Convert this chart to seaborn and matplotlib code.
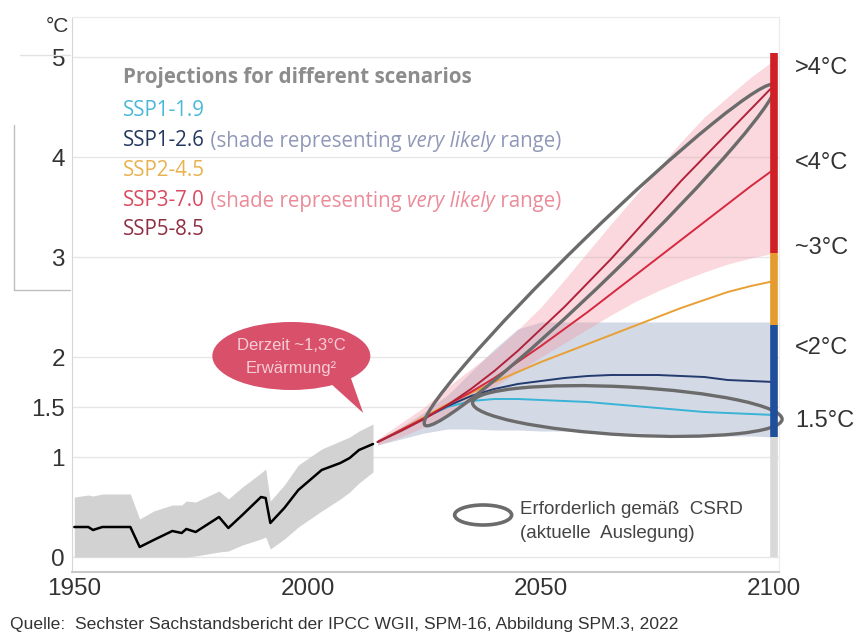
import numpy as np
import pandas as pd
import matplotlib.pyplot as plt
import seaborn as sns
from matplotlib.patches import Ellipse, Polygon
from matplotlib.transforms import Affine2D
from matplotlib.lines import Line2D

# observed warming (black line + grey band)
hist_years = [1950, 1953, 1954, 1956, 1962, 1964, 1967, 1971, 1973, 1974, 1976, 1981,
              1983, 1986, 1990, 1991, 1992, 1995, 1998, 2003, 2007, 2009, 2011, 2014]
hist_mean = [0.30, 0.30, 0.27, 0.30, 0.30, 0.10, 0.17, 0.26, 0.24, 0.28, 0.25, 0.40,
             0.29, 0.42, 0.60, 0.59, 0.34, 0.49, 0.67, 0.87, 0.94, 0.99, 1.07, 1.13]
hist_upper = [0.60, 0.62, 0.61, 0.63, 0.63, 0.38, 0.46, 0.52, 0.52, 0.56, 0.55, 0.66,
              0.58, 0.70, 0.84, 0.88, 0.56, 0.72, 0.92, 1.08, 1.16, 1.20, 1.26, 1.33]
hist_lower = [0.00, 0.00, 0.00, 0.00, 0.00, 0.00, 0.00, 0.00, 0.00, 0.00, 0.01, 0.05,
              0.06, 0.12, 0.18, 0.20, 0.08, 0.18, 0.30, 0.46, 0.58, 0.65, 0.74, 0.85]

# projections
proj_years = [2015, 2020, 2025, 2030, 2035, 2040, 2045, 2050, 2055, 2060,
              2065, 2070, 2075, 2080, 2085, 2090, 2095, 2100]
ssp119 = [1.15, 1.27, 1.39, 1.50, 1.56, 1.58, 1.58, 1.57, 1.56, 1.55,
          1.53, 1.51, 1.49, 1.47, 1.45, 1.44, 1.43, 1.42]
ssp126 = [1.15, 1.27, 1.39, 1.51, 1.61, 1.68, 1.73, 1.76, 1.79, 1.81,
          1.82, 1.82, 1.82, 1.81, 1.80, 1.77, 1.76, 1.75]
ssp245 = [1.15, 1.27, 1.40, 1.53, 1.64, 1.75, 1.85, 1.95, 2.04, 2.13,
          2.22, 2.31, 2.40, 2.49, 2.57, 2.65, 2.71, 2.76]
ssp370 = [1.15, 1.27, 1.39, 1.52, 1.65, 1.79, 1.95, 2.11, 2.28, 2.45,
          2.63, 2.81, 2.99, 3.17, 3.35, 3.53, 3.71, 3.88]
ssp585 = [1.15, 1.26, 1.38, 1.52, 1.68, 1.86, 2.06, 2.28, 2.50, 2.74,
          2.98, 3.24, 3.50, 3.76, 4.00, 4.24, 4.48, 4.72]
ssp126_upper = [1.16, 1.30, 1.45, 1.62, 1.85, 2.08, 2.28, 2.35, 2.35, 2.35,
                2.35, 2.35, 2.35, 2.35, 2.35, 2.35, 2.35, 2.35]
ssp126_lower = [1.12, 1.18, 1.24, 1.28, 1.28, 1.27, 1.27, 1.26, 1.26, 1.25,
                1.25, 1.24, 1.23, 1.23, 1.22, 1.21, 1.21, 1.20]
ssp370_upper = [1.18, 1.34, 1.50, 1.70, 1.88, 2.06, 2.27, 2.50, 2.77, 3.05,
                3.33, 3.60, 3.88, 4.15, 4.40, 4.60, 4.80, 4.97]
ssp370_lower = [1.12, 1.20, 1.30, 1.42, 1.55, 1.70, 1.85, 2.00, 2.14, 2.28,
                2.42, 2.55, 2.66, 2.76, 2.85, 2.93, 2.99, 3.04]

scenarios = ['SSP1-1.9', 'SSP1-2.6', 'SSP2-4.5', 'SSP3-7.0', 'SSP5-8.5']
line_colors = ['#39B3D6', '#233B6E', '#E8A035', '#D6283F', '#B0223A']

# level bar at 2100
bar_bottoms = [0.0, 1.2, 2.32, 3.04]
bar_tops = [1.2, 2.32, 3.04, 5.04]
bar_colors = ['#D9D9D9', '#1F4E9A', '#E69B2E', '#D01F26']
level_labels = ['>4°C', '<4°C', '~3°C', '<2°C', '1.5°C']
level_pos = [4.89, 3.94, 3.09, 2.09, 1.36]

yticks = [0, 1, 1.5, 2, 3, 4, 5]
ytick_labels = ['0', '1', '1.5', '2', '3', '4', '5']
xticks = [1950, 2000, 2050, 2100]

sns.set_style('white')
plt.rcParams['font.family'] = ['Liberation Sans', 'DejaVu Sans']

W, H = 859, 637
fig = plt.figure(figsize=(W / 100, H / 100), dpi=100)
ax = fig.add_axes([72 / W, 1 - 572 / H, 707 / W, 555 / H])
XMIN, XMAX, YMIN, YMAX = 1949.5, 2101, -0.15, 5.4
ax.set_xlim(XMIN, XMAX)
ax.set_ylim(YMIN, YMAX)
px_x = 707 / (XMAX - XMIN)
px_y = 555 / (YMAX - YMIN)

for y in yticks:
    ax.axhline(y, color='#E6E6E6', lw=1, zorder=0)

# bands
ax.fill_between(hist_years, hist_lower, hist_upper, color='#D2D2D2', lw=0, zorder=1)
ax.fill_between(proj_years, ssp126_lower, ssp126_upper, color='#D3D9E5', lw=0, zorder=1)
ax.fill_between(proj_years, ssp370_lower, ssp370_upper, color='#F29AA8', alpha=0.38, lw=0, zorder=1)

hist = pd.DataFrame({'year': hist_years, 'temp': hist_mean})
sns.lineplot(data=hist, x='year', y='temp', color='black', lw=1.8, ax=ax, zorder=3)

proj = pd.DataFrame({
    'year': proj_years * 5,
    'temp': ssp119 + ssp126 + ssp245 + ssp370 + ssp585,
    'scenario': [s for s in scenarios for _ in proj_years],
})
sns.lineplot(data=proj, x='year', y='temp', hue='scenario', hue_order=scenarios,
             palette=dict(zip(scenarios, line_colors)), lw=1.4, legend=False, ax=ax, zorder=3)


def px_ellipse(cx, cy, w, h, ang, **kw):
    # ellipse sized in pixels, centred on a data point
    e = Ellipse((0, 0), w, h, clip_on=False, **kw)
    e.set_transform(Affine2D().rotate_deg(ang).scale(1 / px_x, 1 / px_y).translate(cx, cy) + ax.transData)
    ax.add_patch(e)
    return e


px_ellipse(2062.6, 3.02, 488, 44, 44.2, fill=False, ec='#6B6B6B', lw=2.4, zorder=4)
px_ellipse(2068.5, 1.46, 310, 48, -3.1, fill=False, ec='#6B6B6B', lw=2.4, zorder=4)
px_ellipse(2037.6, 0.42, 57, 20, 0, fill=False, ec='#6B6B6B', lw=2.6, zorder=4)
ax.text(2045.5, 0.47, 'Erforderlich gemäß  CSRD', fontsize=13.5, color='#444444', va='center')
ax.text(2045.5, 0.24, '(aktuelle  Auslegung)', fontsize=13.5, color='#444444', va='center')

# level bar
for b, t, c in zip(bar_bottoms, bar_tops, bar_colors):
    ax.plot([2100, 2100], [b, t], color=c, lw=5.5, solid_capstyle='butt', zorder=5, clip_on=False)
for lab, y in zip(level_labels, level_pos):
    ax.text(2104.4, y, lab, fontsize=17, color='#333333', va='center', ha='left', clip_on=False)

# speech bubble
px_ellipse(1996.5, 2.01, 158, 68, 0, fc='#D9506A', ec='none', zorder=6)
ax.add_patch(Polygon([(2004.8, 1.74), (2009.1, 1.81), (2011.9, 1.44)], closed=True,
                     fc='#D9506A', ec='none', zorder=6, clip_on=False))
ax.text(1996.5, 2.12, 'Derzeit ~1,3°C', fontsize=12, color='#F7CCD4', ha='center', va='center', zorder=7)
ax.text(1996.5, 1.89, 'Erwärmung²', fontsize=12, color='#F7CCD4', ha='center', va='center', zorder=7)

# axes styling
ax.set_yticks(yticks)
ax.set_yticklabels(ytick_labels)
ax.set_xticks(xticks)
ax.set_xticks(range(1960, 2100, 10), minor=True)
ax.tick_params(axis='y', length=0, pad=5, labelsize=17.5, labelcolor='#333333')
ax.tick_params(axis='x', which='major', direction='in', length=5, color='#C8C8C8',
               pad=4, labelsize=17.5, labelcolor='#333333')
ax.tick_params(axis='x', which='minor', direction='in', length=4, color='#D8D8D8')
ax.set_xlabel('')
ax.set_ylabel('')
for side in ['top', 'right']:
    ax.spines[side].set_color('#EBEBEB')
    ax.spines[side].set_linewidth(0.8)
ax.spines['left'].set_color('#D6D6D6')
ax.spines['bottom'].set_color('#C8C8C8')
ax.spines['bottom'].set_linewidth(1.5)

fig.text(57 / W, 1 - 26 / H, '°C', fontsize=15, color='#333333', ha='center', va='center')

# legend block
lx = 123 / W
rows = [
    (78, [('Projections for different scenarios', '#8C8C8C', 'normal', 'bold')]),
    (111, [('SSP1-1.9', '#4BB8D9', 'normal', 'normal')]),
    (141, [('SSP1-2.6', '#24375E', 'normal', 'normal'),
           (' (shade representing ', '#8F98B8', 'normal', 'normal'),
           ('very likely', '#8F98B8', 'italic', 'normal'),
           (' range)', '#8F98B8', 'normal', 'normal')]),
    (170, [('SSP2-4.5', '#E9B250', 'normal', 'normal')]),
    (201, [('SSP3-7.0', '#D94A5E', 'normal', 'normal'),
           (' (shade representing ', '#EB8B99', 'normal', 'normal'),
           ('very likely', '#EB8B99', 'italic', 'normal'),
           (' range)', '#EB8B99', 'normal', 'normal')]),
    (230, [('SSP5-8.5', '#8E2F43', 'normal', 'normal')]),
]
for ypx, parts in rows:
    prev = None
    for s, c, st, wt in parts:
        kw = dict(color=c, style=st, weight=wt, fontsize=14.8, family=['Open Sans', 'DejaVu Sans'])
        if prev is None:
            prev = fig.text(lx, 1 - ypx / H, s, va='center', ha='left', **kw)
        else:
            prev = ax.annotate(s, xy=(1, 0), xycoords=prev, va='bottom', ha='left',
                               annotation_clip=False, **kw)

# stray frame lines from the source screenshot
fig.add_artist(Line2D([14 / W, 14 / W], [1 - 125 / H, 1 - 290 / H], color='#BDBDBD', lw=1))
fig.add_artist(Line2D([14 / W, 70 / W], [1 - 290 / H, 1 - 290 / H], color='#BDBDBD', lw=1))
fig.add_artist(Line2D([20 / W, 70 / W], [1 - 55 / H, 1 - 55 / H], color='#E2E2E2', lw=1))

fig.text(10 / W, 1 - 625 / H,
         'Quelle:  Sechster Sachstandsbericht der IPCC WGII, SPM-16, Abbildung SPM.3, 2022',
         fontsize=12.6, color='#333333', va='center', ha='left')

fig.savefig('out.png', dpi=100)
